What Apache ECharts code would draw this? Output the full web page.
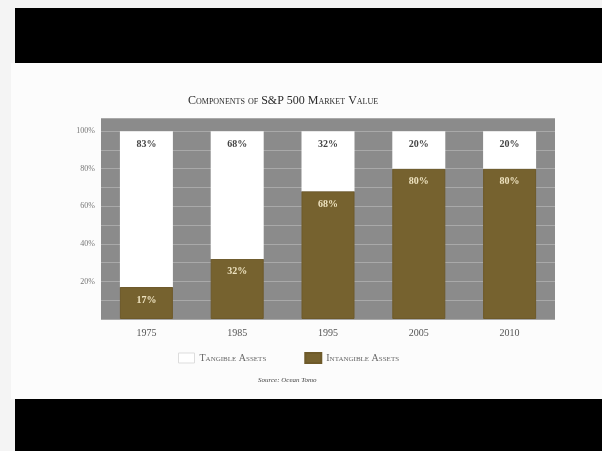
<!DOCTYPE html>
<html>
<head>
<meta charset="utf-8">
<script src="https://cdn.jsdelivr.net/npm/echarts@6/dist/echarts.min.js"></script>
<style>
  html, body { margin: 0; padding: 0; background: #f4f4f4; }
  #chart { width: 602px; height: 451px; }
</style>
</head>
<body>
<div id="chart"></div>
<script>
// data
const years = ["1975", "1985", "1995", "2005", "2010"];
const intangible = [17, 32, 68, 80, 80];
const tangible = [83, 68, 32, 20, 20];
const yTicks = [20, 40, 60, 80, 100];

const serif = "'Liberation Serif', 'DejaVu Serif', serif";
const brown = "#76622f";

const chart = echarts.init(document.getElementById("chart"));

chart.setOption({
  animation: false,
  backgroundColor: "#f4f4f4",
  title: {
    text: "Components of S&P 500 Market Value",
    left: 183,
    top: 90,
    textStyle: { fontFamily: serif, fontStyle: "small-caps", fontWeight: "normal", fontSize: 12, color: "#2a2a2a" }
  },
  legend: {
    bottom: 82,
    left: 173,
    itemWidth: 16,
    itemHeight: 10,
    itemGap: 38,
    icon: "rect",
    textStyle: { fontFamily: serif, fontStyle: "small-caps", fontSize: 10, color: "#666" },
    data: [
      { name: "Tangible Assets", itemStyle: { color: "#ffffff", borderColor: "#dddddd", borderWidth: 1 } },
      { name: "Intangible Assets", itemStyle: { color: brown } }
    ]
  },
  graphic: [
    { type: "rect", z: -10, shape: { x: 11, y: 63, width: 591, height: 336 }, style: { fill: "#fcfcfc" } },
    { type: "rect", z: 10, shape: { x: 15, y: 8, width: 587, height: 55 }, style: { fill: "#000" } },
    { type: "rect", z: 10, shape: { x: 15, y: 399, width: 587, height: 52 }, style: { fill: "#000" } },
    {
      type: "text", left: 258, top: 377,
      style: { text: "Source: Ocean Tomo", fontFamily: serif, fontStyle: "italic", fontSize: 7, fill: "#444" }
    }
  ],
  grid: {
    left: 101, right: 47, top: 118, bottom: 132,
    show: true, backgroundColor: "#8b8b8b", borderWidth: 0
  },
  xAxis: {
    type: "category",
    data: years,
    axisLine: { show: false },
    axisTick: { show: false },
    axisLabel: { fontFamily: serif, fontSize: 10, color: "#555", margin: 9 }
  },
  yAxis: {
    type: "value",
    min: 0,
    max: 107,
    interval: 10,
    axisLine: { show: false },
    axisTick: { show: false },
    axisLabel: {
      fontFamily: serif, fontSize: 8, color: "#777", margin: 6,
      formatter: v => (yTicks.includes(v) ? v + "%" : "")
    },
    splitLine: { show: true, lineStyle: { color: "#a9a9a9", width: 1 } }
  },
  series: [
    {
      name: "Intangible Assets",
      type: "bar",
      stack: "total",
      barWidth: 53,
      itemStyle: { color: brown, borderColor: "#6e5a2a", borderWidth: 1 },
      label: {
        show: true, position: "insideTop", distance: 8,
        formatter: "{c}%", fontFamily: serif, fontSize: 10, fontWeight: "bold", color: "#eee3c0"
      },
      data: intangible
    },
    {
      name: "Tangible Assets",
      type: "bar",
      stack: "total",
      barWidth: 53,
      itemStyle: { color: "#ffffff" },
      label: {
        show: true, position: "insideTop", distance: 8,
        formatter: "{c}%", fontFamily: serif, fontSize: 10, fontWeight: "bold", color: "#444"
      },
      data: tangible
    }
  ]
});
</script>
</body>
</html>
